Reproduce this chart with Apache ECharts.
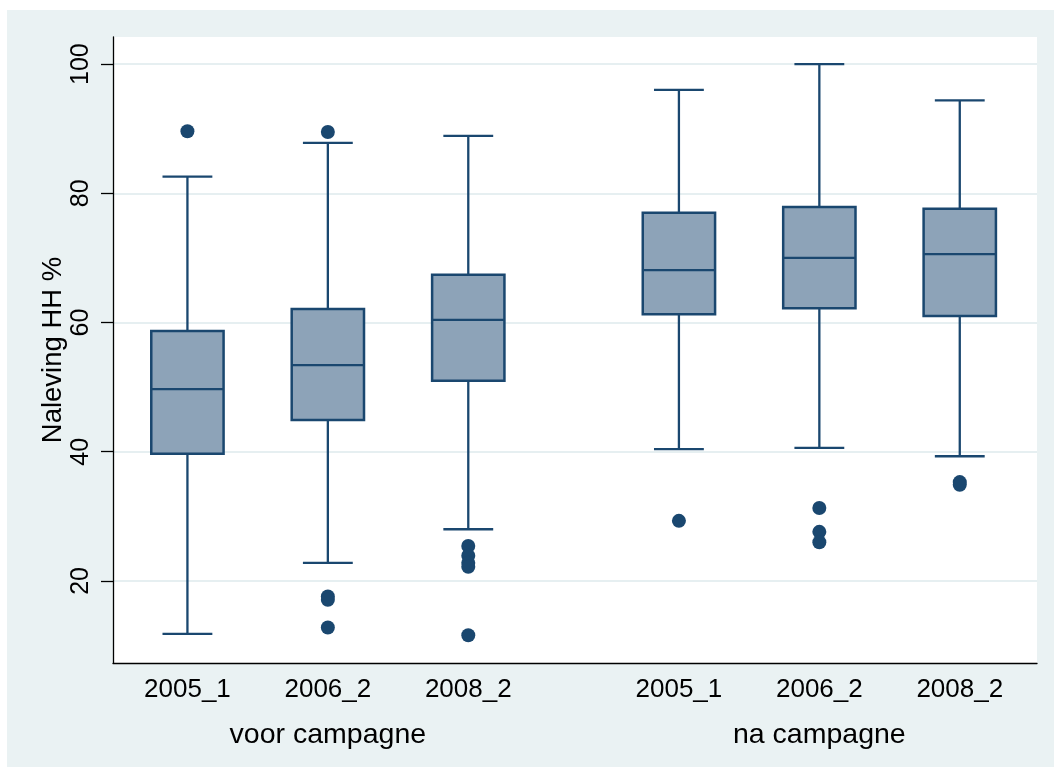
<!DOCTYPE html>
<html><head><meta charset="utf-8">
<script src="https://cdn.jsdelivr.net/npm/echarts@6/dist/echarts.min.js"></script>
<style>
html,body{margin:0;padding:0;background:#ffffff;}
#c{position:absolute;left:7px;top:10px;width:1047px;height:757px;}
</style>
</head><body><div id="c"></div>
<script>
// ---- data ----
const groups = ['voor campagne', 'na campagne'];
const categories = ['2005_1', '2006_2', '2008_2'];
const lowerWhisker = [11.8, 22.8, 28.0, 40.4, 40.6, 39.3];
const q1 = [39.7, 44.9, 51.0, 61.3, 62.2, 61.0];
const median = [49.7, 53.4, 60.4, 68.1, 70.0, 70.6];
const q3 = [58.7, 62.1, 67.4, 77.0, 77.9, 77.6];
const upperWhisker = [82.6, 87.8, 88.9, 96.0, 100.0, 94.4];
const outliers = [
  [89.6],
  [89.5, 17.6, 17.1, 12.8],
  [25.4, 23.9, 22.8, 22.2, 11.6],
  [29.3],
  [31.3, 27.6, 26.0],
  [35.3, 34.9]
];
const yTicks = [20, 40, 60, 80, 100];
const yAxisTitle = 'Naleving HH %';

// ---- layout (computed) ----
const GROUP_GAP = 0.5;
const positions = [], tickLabels = [], groupCenters = [];
groups.forEach((g, gi) => {
  const ps = [];
  categories.forEach((c, ci) => {
    const p = gi * (categories.length + GROUP_GAP) + ci;
    positions.push(p); tickLabels.push(c); ps.push(p);
  });
  groupCenters.push((ps[0] + ps[ps.length - 1]) / 2);
});
const boxData = positions.map((p, i) => [p, lowerWhisker[i], q1[i], median[i], q3[i], upperWhisker[i]]);
const outlierData = [];
outliers.forEach((arr, i) => arr.forEach(v => outlierData.push([positions[i], v])));

const NAVY = '#1A476F';
const FILL = '#8DA3B8';
const FONT = "'Liberation Sans', Arial, sans-serif";
const BOX_W = 0.515, CAP_W = 0.355;

function labelFor(list, vals, v) {
  for (let i = 0; i < vals.length; i++) if (Math.abs(vals[i] - v) < 1e-6) return list[i];
  return '';
}

const chart = echarts.init(document.getElementById('c'), null, {renderer: 'canvas'});
chart.setOption({
  backgroundColor: '#EAF2F3',
  animation: false,
  grid: {
    left: 106, top: 27, right: 17, bottom: 104,
    show: true, backgroundColor: '#ffffff', borderWidth: 0,
    outerBoundsMode: 'none'
  },
  xAxis: [{
    type: 'value', min: -0.53, max: 6.05,
    axisLine: {show: true, onZero: false, lineStyle: {color: '#000', width: 1.3}},
    axisTick: {show: false},
    splitLine: {show: false},
    axisLabel: {
      customValues: positions, margin: 14,
      formatter: v => labelFor(tickLabels, positions, v),
      color: '#000', fontSize: 26, fontFamily: FONT
    }
  }, {
    type: 'value', min: -0.53, max: 6.05, position: 'bottom',
    axisLine: {show: false}, axisTick: {show: false}, splitLine: {show: false},
    axisLabel: {
      customValues: groupCenters, margin: 58,
      formatter: v => labelFor(groups, groupCenters, v),
      color: '#000', fontSize: 28.5, fontFamily: FONT
    }
  }],
  yAxis: {
    type: 'value', min: 7.3, max: 104.2,
    name: yAxisTitle, nameLocation: 'middle', nameGap: 46, nameMoveOverlap: false,
    nameTextStyle: {color: '#000', fontSize: 27.5, fontFamily: FONT},
    axisLine: {show: true, onZero: false, lineStyle: {color: '#000', width: 1.3}},
    axisTick: {show: true, customValues: yTicks, length: 12, lineStyle: {color: '#000', width: 1.3}},
    axisLabel: {
      customValues: yTicks, rotate: 90, margin: 19,
      color: '#000', fontSize: 25, fontFamily: FONT
    },
    splitLine: {show: true, lineStyle: {color: '#E6EFF1', width: 1.8}}
  },
  series: [{
    type: 'custom',
    data: boxData,
    encode: {x: 0, y: [1, 2, 3, 4, 5]},
    renderItem: function (params, api) {
      const x = api.value(0);
      const pLow = api.coord([x, api.value(1)]);
      const pQ1 = api.coord([x, api.value(2)]);
      const pMed = api.coord([x, api.value(3)]);
      const pQ3 = api.coord([x, api.value(4)]);
      const pHigh = api.coord([x, api.value(5)]);
      const bw = api.size([BOX_W, 0])[0];
      const cw = api.size([CAP_W, 0])[0];
      const cx = pMed[0];
      const ls = {stroke: NAVY, lineWidth: 2.3, fill: null};
      return {
        type: 'group',
        children: [
          {type: 'line', shape: {x1: cx, y1: pQ3[1], x2: cx, y2: pHigh[1]}, style: ls},
          {type: 'line', shape: {x1: cx, y1: pQ1[1], x2: cx, y2: pLow[1]}, style: ls},
          {type: 'line', shape: {x1: cx - cw / 2, y1: pHigh[1], x2: cx + cw / 2, y2: pHigh[1]}, style: ls},
          {type: 'line', shape: {x1: cx - cw / 2, y1: pLow[1], x2: cx + cw / 2, y2: pLow[1]}, style: ls},
          {type: 'rect', shape: {x: cx - bw / 2, y: pQ3[1], width: bw, height: pQ1[1] - pQ3[1]},
            style: {fill: FILL, stroke: NAVY, lineWidth: 2.5}},
          {type: 'line', shape: {x1: cx - bw / 2, y1: pMed[1], x2: cx + bw / 2, y2: pMed[1]}, style: ls}
        ]
      };
    }
  }, {
    type: 'scatter',
    data: outlierData,
    symbol: 'circle', symbolSize: 14,
    itemStyle: {color: NAVY, opacity: 1}
  }]
});
</script>
</body></html>
